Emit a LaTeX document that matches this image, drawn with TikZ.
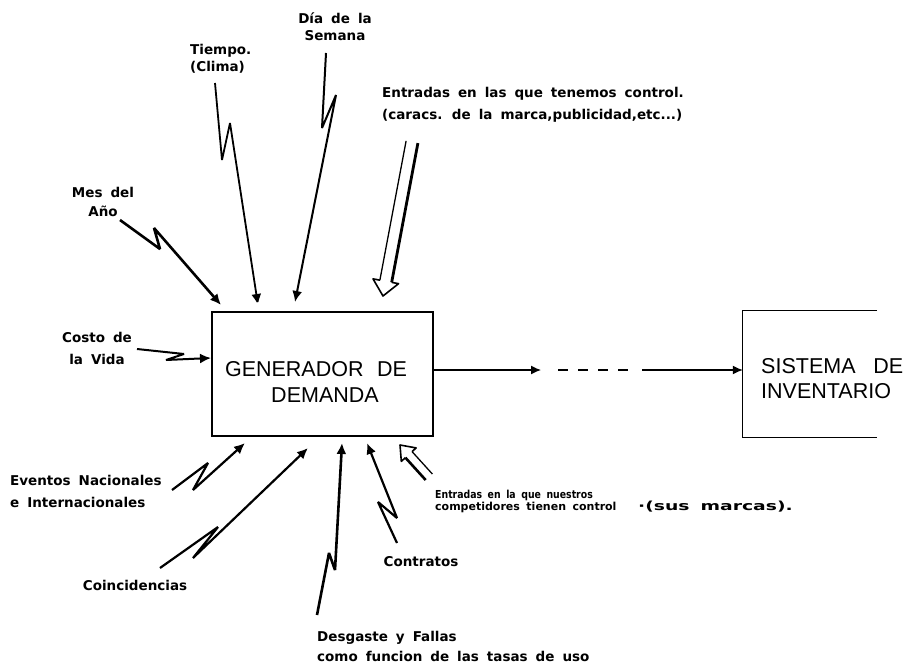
\documentclass[tikz,border=0pt]{standalone}
\usepackage{fontspec}
\usepackage{graphicx}
\setmainfont{Liberation Sans}
\newfontfamily\labfont[WordSpace=1.7]{DejaVu Sans}
\usetikzlibrary{arrows.meta,calc}

% hollow double-line arrow: #1 tail, #2 tip, #3 shaft half width, #4 head half width,
% #5 head length, #6 width of line on the 90 side, #7 width of line on the -90 side
\newcommand\hollowarrow[7]{%
  \coordinate (hb) at ($(#2)!#5pt!(#1)$);
  \draw[line width=#6pt] ($(#1)!#3pt!90:(#2)$) -- ($(hb)!#3pt!90:(#2)$);
  \draw[line width=#7pt] ($(#1)!#3pt!-90:(#2)$) -- ($(hb)!#3pt!-90:(#2)$);
  \draw[line width=1.6pt, line join=round]
    ($(hb)!#3pt!90:(#2)$) -- ($(hb)!#4pt!90:(#2)$) -- (#2)
    -- ($(hb)!#4pt!-90:(#2)$) -- ($(hb)!#3pt!-90:(#2)$);
}

\begin{document}
\begin{tikzpicture}[x=1pt,y=-1pt,
  lbl/.style={font=\labfont\bfseries\fontsize{13.5}{#1}\selectfont, inner sep=0pt, align=center},
  lbl/.default=18,
  boxtxt/.style={font=\fontsize{21.5}{26}\selectfont, inner sep=0pt},
  bolt/.style={line width=#1, line join=miter, miter limit=3,
    -{Latex[length=11pt,width=10pt]}},
  bolt/.default=2pt,
  flow/.style={line width=1.3pt, -{Latex[length=10pt,width=9pt]}},
  frame/.style={line width=1.2pt}]
\useasboundingbox (0,0) rectangle (912,666);

% ---------- boxes ----------
\node[draw, frame, minimum width=221pt, minimum height=124pt, inner sep=0pt] (gen) at (322.5,374) {};
\node[boxtxt] (genA) at (316,369) {GENERADOR\hspace{0.35em} DE};
\node[boxtxt] (genB) at (325,395) {DEMANDA};

\node[minimum width=134pt, minimum height=126pt, inner sep=0pt] (sis) at (810,374) {};
\draw[frame] (sis.north east) -- (sis.north west) -- (sis.south west) -- (sis.south east);
\node[boxtxt, anchor=west] (sisA) at (761,366) {SISTEMA\hspace{0.55em} DE};
\node[boxtxt, anchor=west] (sisB) at (761,391) {INVENTARIO};

% ---------- output flow ----------
\coordinate (fy) at (0,370);
\coordinate (o1) at (541,370);
\coordinate (d1) at (558,370);
\coordinate (d2) at (628,370);
\coordinate (o2) at (642,370);
\draw[flow] (gen.east |- fy) -- (o1);
\draw[line width=1.3pt, dash pattern=on 10pt off 10pt] (d1) -- (d2);
\draw[flow] (o2) -- (sis.west |- fy);

% ---------- labels ----------
\node[lbl=17] (dia) at (335,27) {Día de la\\Semana};
\node[lbl=17, align=left, anchor=west] (tiempo) at (190,59) {Tiempo.\\(Clima)};
\node[lbl=19] (mes) at (103,202) {Mes del\\Año};
\node[lbl=22, align=left, anchor=west] (ctrl) at (382,105)
  {Entradas en las que tenemos control.\\(caracs. de la marca,publicidad,etc...)};
\node[lbl=22] (costo) at (97,348) {Costo de\\la Vida};
\node[lbl=22, align=left, anchor=west] (eventos) at (10,491) {Eventos Nacionales\\e Internacionales};
\node[lbl] (coinc) at (135,585) {Coincidencias};
\node[lbl=20, align=left, anchor=west] (desg) at (317,646)
  {Desgaste y Fallas\\como funcion de las tasas de uso};
\node[lbl] (contr) at (421,562) {Contratos};
\node[font=\labfont\bfseries\fontsize{11}{12}\selectfont, inner sep=0pt, align=left, anchor=base west]
  (comp) at (435,510) {\scalebox{0.85}[1]{Entradas en la que nuestros}\\competidores tienen control};
\node[font=\labfont\bfseries\fontsize{12.5}{12}\selectfont, inner sep=0pt, anchor=base west]
  (sus) at (638,510) {\scalebox{1.5}[1]{·(sus marcas).}};

% ---------- inputs from above ----------
\coordinate (mes0) at (120,220);  \coordinate (mesT) at (221,305);
\draw[bolt=2.6pt] (mes0) -- (160,249) -- (154,228) -- (mesT);
\coordinate (tie0) at (215,83);   \coordinate (tieT) at (258,305);
\draw[bolt=1.8pt] (tie0) -- (222,160) -- (230,123) -- (tieT);
\coordinate (dia0) at (326,53);   \coordinate (diaT) at (295,302);
\draw[bolt=2pt] (dia0) -- (322,128) -- (336,95) -- (diaT);
\coordinate (ent0) at (412,142);  \coordinate (entT) at (383,296);
\hollowarrow{ent0}{entT}{6}{13}{15}{2.8}{1.3}

% ---------- input from the left ----------
\coordinate (cos0) at (137,349);  \coordinate (cosT) at (211,358);
\draw[bolt=2pt] (cos0) -- (184,354) -- (166,360) -- (cosT);

% ---------- inputs from below ----------
\coordinate (eve0) at (172,490);  \coordinate (eveT) at (245,443);
\draw[bolt=2.2pt] (eve0) -- (208,463) -- (193,490) -- (eveT);
\coordinate (coi0) at (160,568);  \coordinate (coiT) at (308,448);
\draw[bolt=2.2pt] (coi0) -- (218,527) -- (193,558) -- (coiT);
\coordinate (des0) at (317,615);  \coordinate (desT) at (342,443);
\draw[bolt=2.6pt] (des0) -- (329,553) -- (335,570) -- (desT);
\coordinate (con0) at (397,543);  \coordinate (conT) at (367,443);
\draw[bolt=2.2pt] (con0) -- (378,502) -- (397,518) -- (conT);
\coordinate (com0) at (429,477);  \coordinate (comT) at (400,445);
\hollowarrow{com0}{comT}{4.5}{10}{13}{2.6}{1.3}
\end{tikzpicture}
\end{document}
